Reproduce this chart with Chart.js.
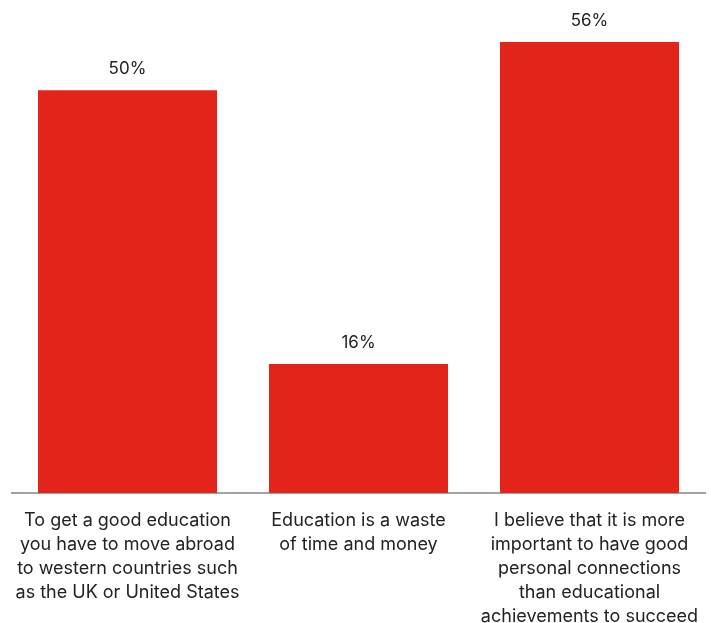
<!DOCTYPE html>
<html>
<head>
<meta charset="utf-8">
<script src="https://cdn.jsdelivr.net/npm/chart.js@4/dist/chart.umd.min.js"></script>
<style>
  html, body { margin: 0; padding: 0; background: #fff; }
  #wrap { width: 711px; height: 623px; }
</style>
</head>
<body>
<div id="wrap"><canvas id="barChart"></canvas></div>
<script>
const categories = [
    ['To get a good education', 'you have to move abroad', 'to western countries such', 'as the UK or United States'],
    ['Education is a waste', 'of time and money'],
    ['I believe that it is more', 'important to have good', 'personal connections', 'than educational', 'achievements to succeed']
];
const shares = [50, 16, 56];

const FONT = 'Inter, Roboto, sans-serif';

// writes the percentage over each bar
const valueLabels = {
    id: 'valueLabels',
    afterDatasetsDraw(chart) {
        const c = chart.ctx;
        const meta = chart.getDatasetMeta(0);
        c.save();
        c.font = '17px ' + FONT;
        c.fillStyle = '#222';
        c.textAlign = 'center';
        c.textBaseline = 'alphabetic';
        meta.data.forEach((bar, i) => {
            c.fillText(shares[i] + '%', bar.x, bar.y - 16);
        });
        c.restore();
    }
};

const ctx = document.getElementById('barChart').getContext('2d');
const myChart = new Chart(ctx, {
    type: 'bar',
    data: {
        labels: categories,
        datasets: [{
            data: shares,
            backgroundColor: '#e3241b',
            borderWidth: 0,
            barPercentage: 0.775,
            categoryPercentage: 1
        }]
    },
    options: {
        responsive: true,
        maintainAspectRatio: false,
        animation: false,
        layout: { padding: { left: 12, right: 6, top: 0, bottom: 0 } },
        plugins: {
            legend: { display: false },
            tooltip: { enabled: false }
        },
        scales: {
            y: {
                display: false,
                min: 0,
                max: 61.2
            },
            x: {
                grid: { display: false },
                border: { display: true, color: '#a3a3a3', width: 2 },
                afterFit(scale) { scale.height = 130; },
                ticks: {
                    color: '#222',
                    maxRotation: 0,
                    autoSkip: false,
                    padding: 8,
                    font: { family: FONT, size: 18, lineHeight: '24px' }
                }
            }
        }
    },
    plugins: [valueLabels]
});
</script>
</body>
</html>
